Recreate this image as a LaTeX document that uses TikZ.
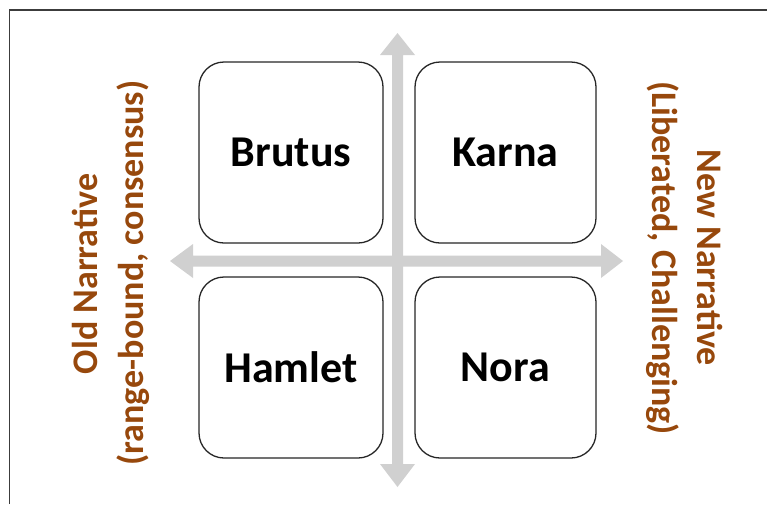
\documentclass[tikz,border=0pt]{standalone}
\usepackage{fontspec}
\setmainfont{Carlito}
\definecolor{axisgrey}{RGB}{208,208,208}
\definecolor{labelbrown}{RGB}{151,72,12}
\definecolor{framegrey}{RGB}{60,60,60}
\begin{document}
\begin{tikzpicture}[x=1pt,y=-1pt,
  quad/.style={draw=black!85,line width=1.3pt,fill=white,rounded corners=25pt},
  quadtext/.style={font=\fontsize{44}{50}\selectfont\bfseries},
  sidetext/.style={font=\fontsize{36}{40}\selectfont\bfseries,text=labelbrown,inner sep=0pt,anchor=base},
  axis/.style={fill=axisgrey,draw=none}]
\useasboundingbox (0,0) rectangle (767,504);
% outer frame (left and top edges)
\draw[framegrey,line width=1.4pt] (9.5,504) -- (9.5,10) -- (767,10);

% double-headed axes
\fill[axis] (397.5,33) -- (415,55) -- (403,55) -- (403,464) -- (415,464) -- (397.5,487)
  -- (380,464) -- (392,464) -- (392,55) -- (380,55) -- cycle;
\fill[axis] (170,261) -- (193,244) -- (193,255.5) -- (601,255.5) -- (601,244) -- (623,261)
  -- (601,278) -- (601,266.5) -- (193,266.5) -- (193,278) -- cycle;

% quadrants
\draw[quad] (199,62) rectangle (383,243);
\draw[quad] (415,62) rectangle (596,243);
\draw[quad] (199,277) rectangle (383,458);
\draw[quad] (415,277) rectangle (596,458);
\node[quadtext] (brutus) at (291,152.5) {Brutus};
\node[quadtext] (karna)  at (505.5,152.5) {Karna};
\node[quadtext] (hamlet) at (291,367.5) {Hamlet};
\node[quadtext] (nora)   at (505.5,367.5) {Nora};

% axis labels
\node[sidetext,rotate=90] (oldA) at (97,274) {Old Narrative};
\node[sidetext,rotate=90] (oldB) at (143,273) {(range-bound, consensus)};
\node[sidetext,rotate=-90] (newA) at (697,258) {New Narrative};
\node[sidetext,rotate=-90] (newB) at (652,258) {(Liberated, Challenging)};
\end{tikzpicture}
\end{document}
